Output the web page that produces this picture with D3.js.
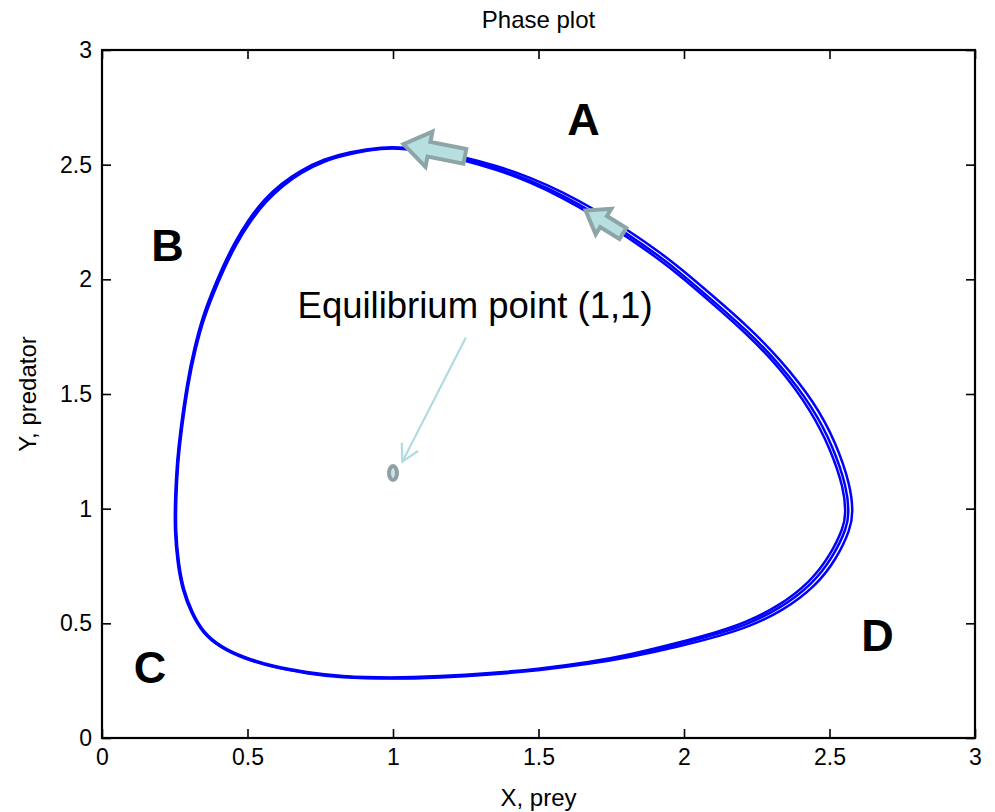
<!DOCTYPE html>
<html>
<head>
<meta charset="utf-8">
<script src="https://cdn.jsdelivr.net/npm/d3@7"></script>
<style>
  body { margin: 0; background: #fff; }
  svg text { font-family: "Liberation Sans", Arial, sans-serif; }
</style>
</head>
<body>
<div id="chart"></div>
<script>
// axis ticks
const xTicks = [0, 0.5, 1, 1.5, 2, 2.5, 3];
const yTicks = [0, 0.5, 1, 1.5, 2, 2.5, 3];

// closed orbit, [prey, predator]
const orbitA = [
  [0.966, 2.575], [1.041, 2.571], [1.127, 2.558], [1.241, 2.526], [1.357, 2.485],
  [1.471, 2.433], [1.584, 2.366], [1.694, 2.288], [1.804, 2.199], [1.918, 2.098],
  [1.986, 2.030], [2.100, 1.906], [2.216, 1.777], [2.330, 1.630], [2.443, 1.442],
  [2.512, 1.272], [2.560, 1.092], [2.567, 0.981], [2.560, 0.916], [2.512, 0.789],
  [2.443, 0.672], [2.330, 0.564], [2.216, 0.495], [2.124, 0.457], [1.986, 0.409],
  [1.814, 0.358], [1.677, 0.327], [1.505, 0.299], [1.333, 0.279], [1.162, 0.266],
  [0.990, 0.259], [0.818, 0.266], [0.704, 0.283], [0.588, 0.310], [0.485, 0.349],
  [0.405, 0.397], [0.347, 0.458], [0.308, 0.545], [0.278, 0.645], [0.261, 0.763],
  [0.251, 0.907], [0.253, 1.051], [0.259, 1.199], [0.271, 1.343], [0.296, 1.561],
  [0.318, 1.692], [0.345, 1.823], [0.380, 1.940], [0.414, 2.041], [0.455, 2.150],
  [0.507, 2.259], [0.562, 2.346], [0.617, 2.411], [0.680, 2.468], [0.763, 2.520],
  [0.849, 2.551]
];
// a slightly wider lap of the same cycle
const orbitB = [
  [0.966, 2.578], [1.041, 2.575], [1.127, 2.563], [1.241, 2.534], [1.357, 2.495],
  [1.471, 2.445], [1.584, 2.380], [1.694, 2.304], [1.804, 2.217], [1.918, 2.117],
  [1.986, 2.050], [2.100, 1.927], [2.216, 1.799], [2.330, 1.653], [2.450, 1.462],
  [2.522, 1.288], [2.572, 1.102], [2.581, 0.985], [2.573, 0.914], [2.524, 0.780],
  [2.453, 0.662], [2.338, 0.553], [2.222, 0.485], [2.128, 0.447], [1.988, 0.400],
  [1.815, 0.352], [1.677, 0.323], [1.505, 0.295], [1.333, 0.276], [1.162, 0.263],
  [0.990, 0.257], [0.818, 0.263], [0.704, 0.281], [0.588, 0.308], [0.484, 0.347],
  [0.404, 0.396], [0.346, 0.457], [0.306, 0.545], [0.276, 0.645], [0.259, 0.763],
  [0.249, 0.907], [0.251, 1.051], [0.257, 1.199], [0.269, 1.345], [0.294, 1.563],
  [0.316, 1.695], [0.343, 1.827], [0.378, 1.945], [0.412, 2.047], [0.453, 2.156],
  [0.505, 2.265], [0.560, 2.352], [0.616, 2.417], [0.679, 2.473], [0.763, 2.525],
  [0.849, 2.556]
];
// a slightly narrower lap
const orbitC = [
  [0.966, 2.573], [1.041, 2.569], [1.127, 2.555], [1.241, 2.521], [1.357, 2.478],
  [1.471, 2.424], [1.584, 2.355], [1.694, 2.276], [1.804, 2.186], [1.918, 2.084],
  [1.986, 2.016], [2.100, 1.892], [2.216, 1.762], [2.330, 1.614], [2.436, 1.429],
  [2.503, 1.262], [2.550, 1.086], [2.556, 0.979], [2.549, 0.920], [2.503, 0.797],
  [2.435, 0.681], [2.324, 0.573], [2.211, 0.503], [2.120, 0.464], [1.984, 0.416],
  [1.813, 0.363], [1.677, 0.331], [1.505, 0.302], [1.333, 0.282], [1.162, 0.269],
  [0.990, 0.262], [0.818, 0.269], [0.704, 0.286], [0.588, 0.313], [0.486, 0.352],
  [0.406, 0.400], [0.348, 0.461], [0.310, 0.547], [0.280, 0.646], [0.263, 0.763],
  [0.253, 0.907], [0.255, 1.051], [0.261, 1.199], [0.273, 1.341], [0.298, 1.559],
  [0.320, 1.689], [0.347, 1.819], [0.382, 1.936], [0.416, 2.036], [0.457, 2.145],
  [0.509, 2.253], [0.564, 2.341], [0.619, 2.406], [0.681, 2.464], [0.763, 2.516],
  [0.849, 2.547]
];
const orbits = [orbitA, orbitB, orbitC];

// direction arrows on the orbit: tail -> head
const flowArrows = [
  {tail: [1.247, 2.536], head: [1.036, 2.589], shaft: 15, headW: 36, headL: 26},
  {tail: [1.790, 2.200], head: [1.662, 2.300], shaft: 13, headW: 30, headL: 21}
];

const equilibrium = [1, 1.155];
const eqLabel = {text: "Equilibrium point (1,1)", at: [1.282, 1.831]};
const eqPointer = {from: [1.25, 1.745], to: [1.032, 1.205]};

const regionLabels = [
  {text: "A", at: [1.655, 2.63]},
  {text: "B", at: [0.225, 2.08]},
  {text: "C", at: [0.165, 0.24]},
  {text: "D", at: [2.665, 0.38]}
];

const width = 995, height = 812;
const margin = {top: 50, right: 20, bottom: 74, left: 102};

const svg = d3.select("#chart").append("svg")
  .attr("width", width)
  .attr("height", height);

const x = d3.scaleLinear().domain([0, 3]).range([margin.left, width - margin.right]);
const y = d3.scaleLinear().domain([0, 3]).range([height - margin.bottom, margin.top]);

const fmt = d => d === 0 ? "0" : String(d);

// axes (ticks pointing inward)
const gx = svg.append("g")
  .attr("transform", `translate(0,${y(0)})`)
  .call(d3.axisBottom(x).tickValues(xTicks).tickFormat(fmt).tickSizeInner(-9).tickSizeOuter(0).tickPadding(11));
const gy = svg.append("g")
  .attr("transform", `translate(${x(0)},0)`)
  .call(d3.axisLeft(y).tickValues(yTicks).tickFormat(fmt).tickSizeInner(-9).tickSizeOuter(0).tickPadding(10));
const gxTop = svg.append("g")
  .attr("transform", `translate(0,${y(3)})`)
  .call(d3.axisTop(x).tickValues(xTicks).tickFormat("").tickSizeInner(-9).tickSizeOuter(0));
const gyRight = svg.append("g")
  .attr("transform", `translate(${x(3)},0)`)
  .call(d3.axisRight(y).tickValues(yTicks).tickFormat("").tickSizeInner(-9).tickSizeOuter(0));

[gx, gy, gxTop, gyRight].forEach(g => {
  g.select(".domain").remove();
  g.selectAll(".tick line").attr("stroke", "#000").attr("stroke-width", 1.6);
  g.selectAll("text").attr("font-size", 23).attr("fill", "#000");
});

// frame
svg.append("rect")
  .attr("x", x(0)).attr("y", y(3))
  .attr("width", x(3) - x(0)).attr("height", y(0) - y(3))
  .attr("fill", "none").attr("stroke", "#000").attr("stroke-width", 2.2);

// title and axis labels
svg.append("text")
  .attr("x", (x(0) + x(3)) / 2).attr("y", 28)
  .attr("text-anchor", "middle").attr("font-size", 24)
  .text("Phase plot");
svg.append("text")
  .attr("x", (x(0) + x(3)) / 2).attr("y", 806)
  .attr("text-anchor", "middle").attr("font-size", 24)
  .text("X, prey");
svg.append("text")
  .attr("transform", `translate(36,${(y(0) + y(3)) / 2}) rotate(-90)`)
  .attr("text-anchor", "middle").attr("font-size", 24)
  .text("Y, predator");

// orbits, smoothed through the traced points
const line = d3.line()
  .x(d => x(d[0]))
  .y(d => y(d[1]))
  .curve(d3.curveBasisClosed);

svg.append("g").selectAll("path")
  .data(orbits)
  .join("path")
    .attr("d", line)
    .attr("fill", "none")
    .attr("stroke", "#0000ff")
    .attr("stroke-width", 2.5)
    .attr("stroke-linejoin", "round");

// block arrows showing flow direction
function blockArrow(a) {
  const x0 = x(a.tail[0]), y0 = y(a.tail[1]);
  const x1 = x(a.head[0]), y1 = y(a.head[1]);
  const len = Math.hypot(x1 - x0, y1 - y0);
  const ux = (x1 - x0) / len, uy = (y1 - y0) / len;
  const nx = -uy, ny = ux;
  const bx = x1 - ux * a.headL, by = y1 - uy * a.headL;
  const s = a.shaft / 2, h = a.headW / 2;
  const pts = [
    [x0 + nx * s, y0 + ny * s],
    [bx + nx * s, by + ny * s],
    [bx + nx * h, by + ny * h],
    [x1, y1],
    [bx - nx * h, by - ny * h],
    [bx - nx * s, by - ny * s],
    [x0 - nx * s, y0 - ny * s]
  ];
  return "M" + pts.map(p => p.join(",")).join("L") + "Z";
}

svg.append("g").selectAll("path")
  .data(flowArrows)
  .join("path")
    .attr("d", blockArrow)
    .attr("fill", "#b7dfe0")
    .attr("stroke", "#8ea5a7")
    .attr("stroke-width", 4)
    .attr("stroke-linejoin", "miter");

// equilibrium marker and pointer
svg.append("ellipse")
  .attr("cx", x(equilibrium[0])).attr("cy", y(equilibrium[1]))
  .attr("rx", 4).attr("ry", 7)
  .attr("fill", "#c9e4e6")
  .attr("stroke", "#8ea0a6")
  .attr("stroke-width", 4);

const px0 = x(eqPointer.from[0]), py0 = y(eqPointer.from[1]);
const px1 = x(eqPointer.to[0]), py1 = y(eqPointer.to[1]);
svg.append("line")
  .attr("x1", px0).attr("y1", py0).attr("x2", px1).attr("y2", py1)
  .attr("stroke", "#b0dbe0").attr("stroke-width", 2.2);
const ang = Math.atan2(py1 - py0, px1 - px0);
const hl = 19, spread = 0.5;
svg.append("path")
  .attr("d", `M${px1 - hl * Math.cos(ang - spread)},${py1 - hl * Math.sin(ang - spread)}L${px1},${py1}L${px1 - hl * Math.cos(ang + spread)},${py1 - hl * Math.sin(ang + spread)}`)
  .attr("fill", "none").attr("stroke", "#b0dbe0").attr("stroke-width", 2.2);

svg.append("text")
  .attr("x", x(eqLabel.at[0])).attr("y", y(eqLabel.at[1]))
  .attr("text-anchor", "middle").attr("font-size", 36.5)
  .text(eqLabel.text);

// region letters
svg.append("g").selectAll("text")
  .data(regionLabels)
  .join("text")
    .attr("x", d => x(d.at[0])).attr("y", d => y(d.at[1]))
    .attr("text-anchor", "middle")
    .attr("font-size", 45).attr("font-weight", "bold")
    .text(d => d.text);
</script>
</body>
</html>
